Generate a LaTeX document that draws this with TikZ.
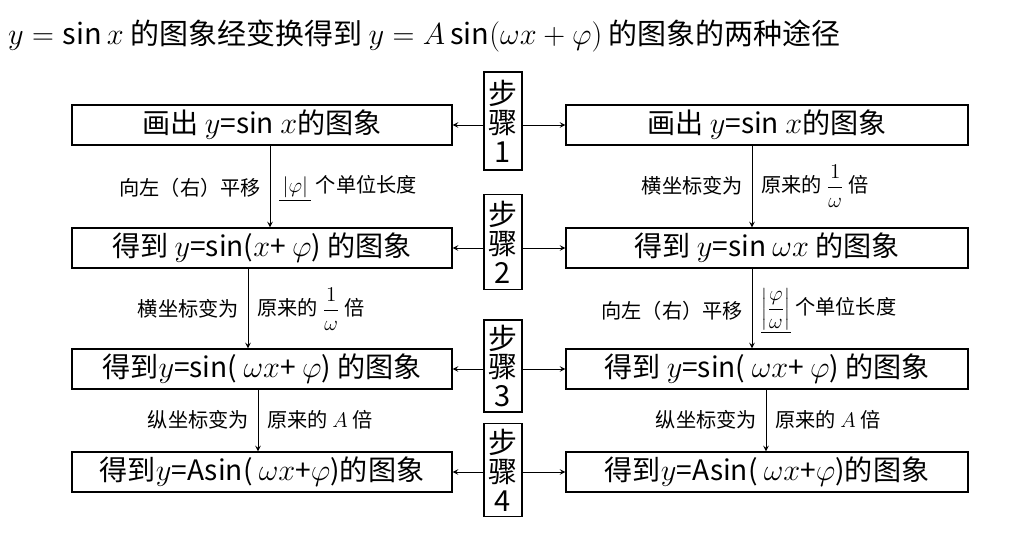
\documentclass[tikz,border=0pt]{standalone}
\usepackage{fontspec}
\setmainfont{Noto Sans CJK SC}
\usetikzlibrary{positioning}
\tikzset{
  box/.style={draw, thick, minimum height=0.8cm, inner sep=0pt, font=\fontsize{16}{18}\selectfont},
  stepbox/.style={draw, thick, minimum width=0.76cm, align=center, inner sep=1pt, font=\fontsize{16.5}{16.5}\selectfont},
  lab/.style={font=\fontsize{11.5}{13}\selectfont, inner sep=5pt},
  >=stealth
}
\begin{document}
\begin{tikzpicture}[x=0.02cm, y=-0.02cm]
\useasboundingbox (0,0) rectangle (1014,542);
\node[anchor=west, font=\fontsize{16.5}{18}\selectfont] (title) at (2,36)
  {$y=\sin x$ 的图象经变换得到 $y=A\sin(\omega x+\varphi)$ 的图象的两种途径};
% left column
\node[box, minimum width=7.6cm] (l1) at (262,125) {画出 $y$=sin $x$的图象};
\node[box, minimum width=7.6cm] (l2) at (262,248) {得到 $y$=sin($x$+ $\varphi$) 的图象};
\node[box, minimum width=7.6cm] (l3) at (262,369) {得到$y$=sin( $\omega x$+ $\varphi$) 的图象};
\node[box, minimum width=7.6cm] (l4) at (262,472) {得到$y$=Asin( $\omega x$+$\varphi$)的图象};
% right column
\node[box, minimum width=8.04cm] (r1) at (767,125) {画出 $y$=sin $x$的图象};
\node[box, minimum width=8.04cm] (r2) at (767,248) {得到 $y$=sin $\omega x$ 的图象};
\node[box, minimum width=8.04cm] (r3) at (767,369) {得到 $y$=sin( $\omega x$+ $\varphi$) 的图象};
\node[box, minimum width=8.04cm] (r4) at (767,472) {得到$y$=Asin( $\omega x$+$\varphi$)的图象};
% steps
\node[stepbox, minimum height=1.96cm] (s1) at (503,121) {步\\骤\\1};
\node[stepbox, minimum height=1.9cm] (s2) at (503,242) {步\\骤\\2};
\node[stepbox, minimum height=1.84cm] (s3) at (503,366) {步\\骤\\3};
\node[stepbox, minimum height=1.86cm] (s4) at (503,470) {步\\骤\\4};
\foreach \i in {1,...,4}{
  \draw[->] (s\i.west |- l\i) -- (l\i.east);
  \draw[->] (s\i.east |- r\i) -- (r\i.west);
}
% left transforms
\draw[->] (l1.south -| 270,0) coordinate (a1) -- (a1 |- l2.north);
\draw[->] (l2.south -| 248,0) coordinate (a2) -- (a2 |- l3.north);
\draw[->] (l3.south -| 258,0) coordinate (a3) -- (a3 |- l4.north);
\node[lab, anchor=east] (p1) at (270,188) {向左（右）平移};
\node[lab, anchor=west] (q1) at (270,188) {$\underline{\,|\varphi|\,}$ 个单位长度};
\node[lab, anchor=east] (p2) at (248,309) {横坐标变为};
\node[lab, anchor=west] (q2) at (248,309) {原来的 $\displaystyle\frac{1}{\omega}$ 倍};
\node[lab, anchor=east] (p3) at (258,420) {纵坐标变为};
\node[lab, anchor=west] (q3) at (258,420) {原来的 $A$ 倍};
% right transforms
\draw[->] (r1.south -| 752,0) coordinate (b1) -- (b1 |- r2.north);
\draw[->] (r2.south -| 752,0) coordinate (b2) -- (b2 |- r3.north);
\draw[->] (r3.south -| 766,0) coordinate (b3) -- (b3 |- r4.north);
\node[lab, anchor=east] (u1) at (752,186) {横坐标变为};
\node[lab, anchor=west] (v1) at (752,186) {原来的 $\displaystyle\frac{1}{\omega}$ 倍};
\node[lab, anchor=east] (u2) at (752,311) {向左（右）平移};
\node[lab, anchor=west] (v2) at (752,311) {$\underline{\left|\displaystyle\frac{\varphi}{\omega}\right|}$ 个单位长度};
\node[lab, anchor=east] (u3) at (766,420) {纵坐标变为};
\node[lab, anchor=west] (v3) at (766,420) {原来的 $A$ 倍};
\end{tikzpicture}
\end{document}
